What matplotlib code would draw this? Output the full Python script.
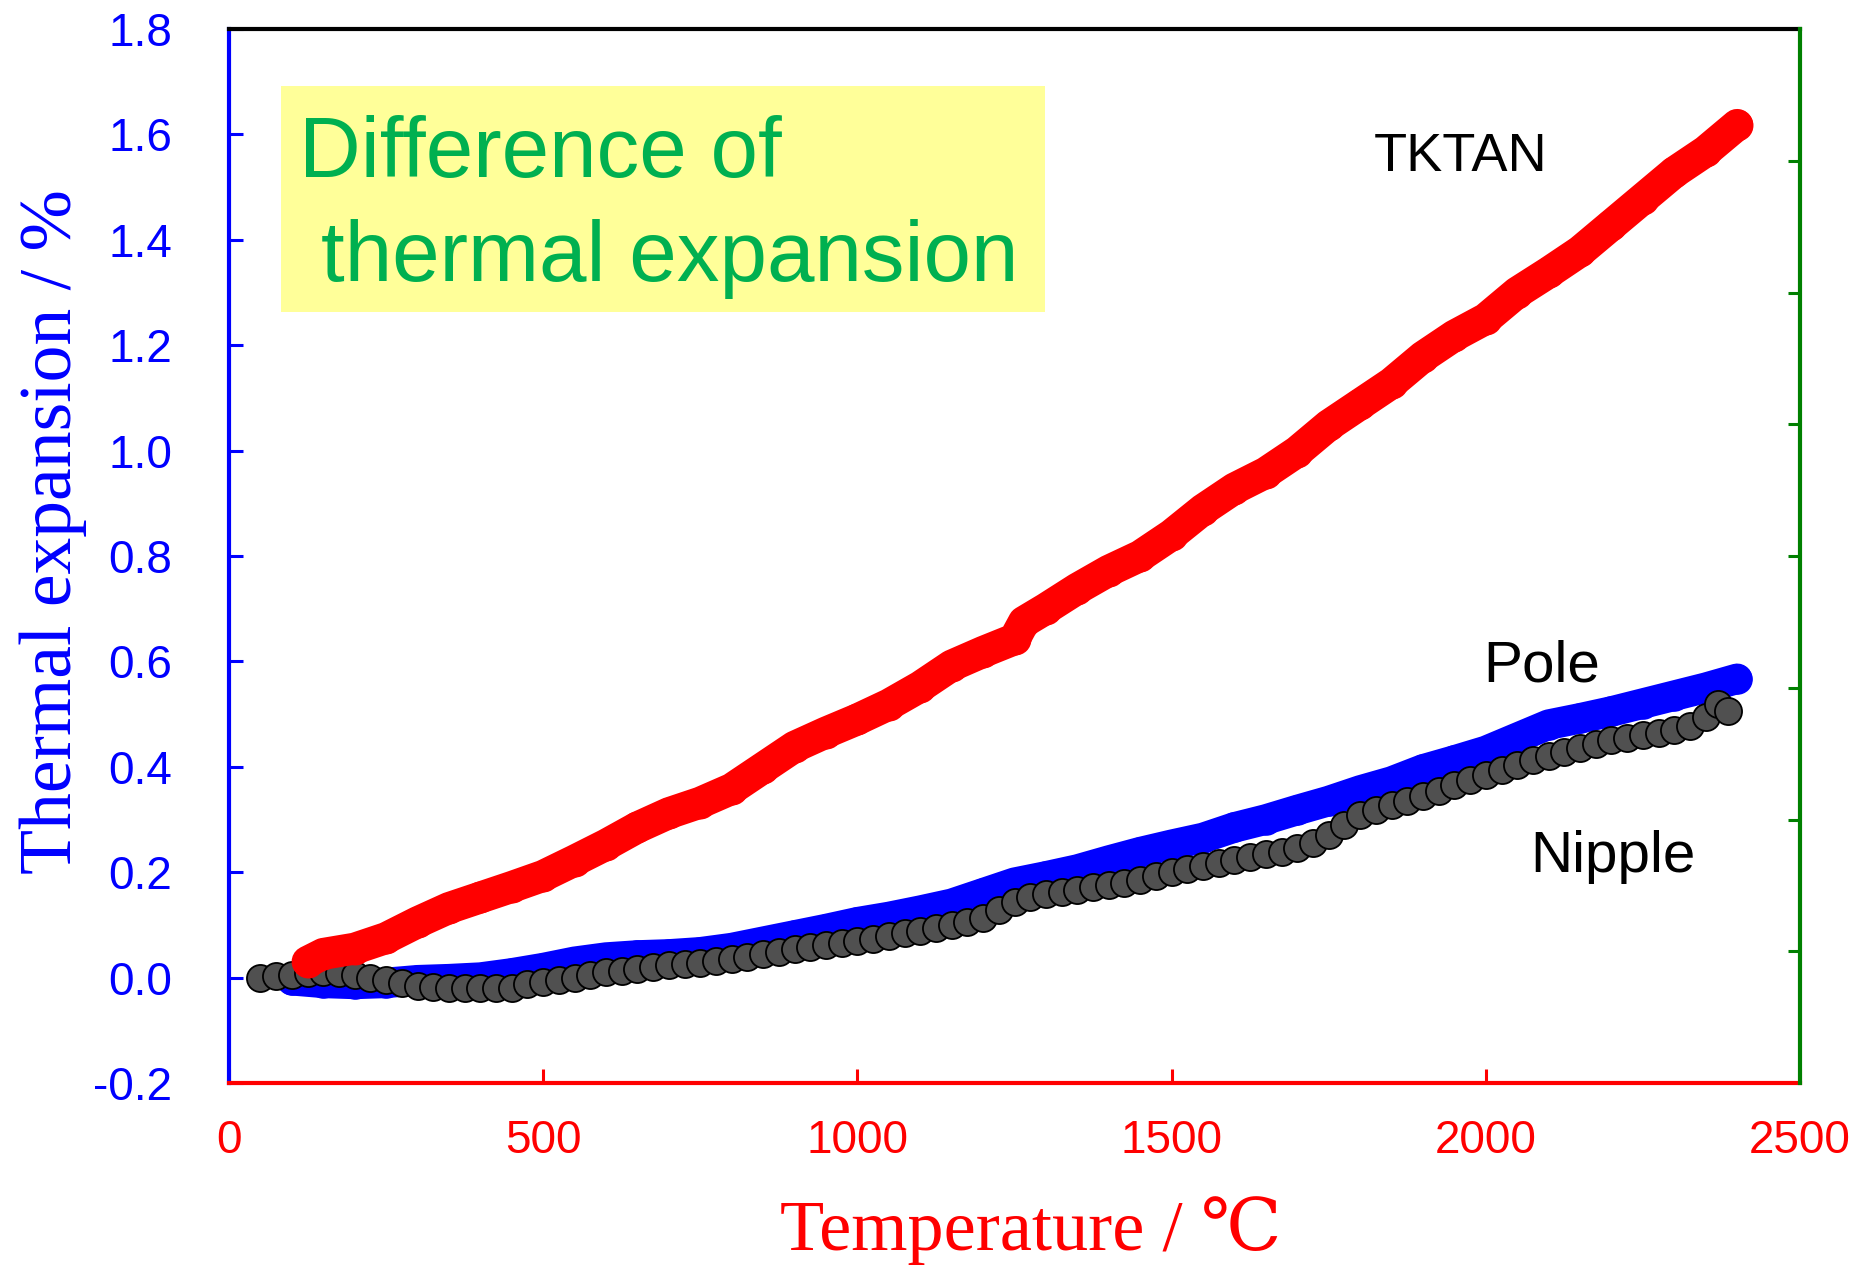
import numpy as np
import matplotlib
matplotlib.use("Agg")
import matplotlib.pyplot as plt
from matplotlib.patches import Rectangle

# ---------------- data ----------------
tktan_T = [125, 150, 200, 250, 300, 350, 400, 450, 500, 550, 600, 650, 700, 750,
           800, 850, 900, 950, 1000, 1050, 1100, 1150, 1200, 1250, 1265, 1300,
           1350, 1400, 1450, 1500, 1550, 1600, 1650, 1700, 1750, 1800, 1850,
           1900, 1950, 2000, 2050, 2100, 2150, 2200, 2250, 2300, 2350, 2400]
tktan_v = [0.030, 0.045, 0.055, 0.075, 0.105, 0.132, 0.152, 0.172, 0.193, 0.222,
           0.252, 0.285, 0.312, 0.332, 0.358, 0.398, 0.438, 0.465, 0.490, 0.518,
           0.552, 0.592, 0.618, 0.642, 0.675, 0.700, 0.738, 0.772, 0.800, 0.840,
           0.888, 0.928, 0.958, 0.998, 1.048, 1.088, 1.128, 1.178, 1.218, 1.250,
           1.300, 1.338, 1.378, 1.428, 1.478, 1.528, 1.568, 1.618]

pole_T = [100, 150, 200, 250, 300, 350, 400, 450, 500, 550, 600, 650, 700, 750,
          800, 850, 900, 950, 1000, 1050, 1100, 1150, 1200, 1250, 1300, 1350,
          1400, 1450, 1500, 1550, 1600, 1650, 1700, 1750, 1800, 1850, 1900, 1950,
          2000, 2050, 2100, 2150, 2200, 2250, 2300, 2350, 2400]
pole_v = [-0.005, -0.010, -0.012, -0.010, -0.005, -0.003, 0.000, 0.008, 0.018,
          0.030, 0.038, 0.042, 0.044, 0.048, 0.056, 0.068, 0.080, 0.092, 0.105,
          0.115, 0.127, 0.140, 0.160, 0.180, 0.192, 0.205, 0.222, 0.238, 0.252,
          0.265, 0.285, 0.300, 0.318, 0.335, 0.355, 0.372, 0.395, 0.412, 0.430,
          0.455, 0.480, 0.492, 0.505, 0.520, 0.535, 0.550, 0.567]

nipple_T = [50, 75, 100, 125, 150, 175, 200, 225, 250, 275, 300, 325, 350, 375,
            400, 425, 450, 475, 500, 525, 550, 575, 600, 625, 650, 675, 700, 725,
            750, 775, 800, 825, 850, 875, 900, 925, 950, 975, 1000, 1025, 1050,
            1075, 1100, 1125, 1150, 1175, 1200, 1225, 1250, 1275, 1300, 1325,
            1350, 1375, 1400, 1425, 1450, 1475, 1500, 1525, 1550, 1575, 1600,
            1625, 1650, 1675, 1700, 1725, 1750, 1775, 1800, 1825, 1850, 1875,
            1900, 1925, 1950, 1975, 2000, 2025, 2050, 2075, 2100, 2125, 2150,
            2175, 2200, 2225, 2250, 2275, 2300, 2325, 2350, 2370, 2385]
nipple_v = [0.000, 0.003, 0.005, 0.008, 0.010, 0.008, 0.005, 0.000, -0.005,
            -0.010, -0.015, -0.018, -0.020, -0.020, -0.020, -0.020, -0.019,
            -0.012, -0.008, -0.004, 0.000, 0.005, 0.010, 0.013, 0.016, 0.020,
            0.023, 0.026, 0.028, 0.031, 0.035, 0.040, 0.045, 0.049, 0.054, 0.058,
            0.062, 0.066, 0.070, 0.074, 0.079, 0.084, 0.089, 0.094, 0.100, 0.106,
            0.114, 0.128, 0.143, 0.152, 0.158, 0.163, 0.167, 0.171, 0.175, 0.180,
            0.186, 0.193, 0.200, 0.206, 0.212, 0.218, 0.224, 0.229, 0.234, 0.239,
            0.245, 0.255, 0.270, 0.290, 0.308, 0.318, 0.327, 0.336, 0.345, 0.355,
            0.365, 0.375, 0.385, 0.394, 0.403, 0.412, 0.420, 0.428, 0.436, 0.443,
            0.450, 0.455, 0.460, 0.465, 0.470, 0.478, 0.495, 0.520, 0.505]

x_ticks = [0, 500, 1000, 1500, 2000, 2500]
y_ticks = [-0.2, 0.0, 0.2, 0.4, 0.6, 0.8, 1.0, 1.2, 1.4, 1.6, 1.8]
y_ticklabels = ["-0.2", "0.0", "0.2", "0.4", "0.6", "0.8", "1.0", "1.2", "1.4", "1.6", "1.8"]
right_ticks = [1, 2, 3, 4, 5, 6, 7]

W, H = 1864, 1268
fig = plt.figure(figsize=(W / 100, H / 100), dpi=100)
ax = fig.add_axes([229 / W, 1 - 1083 / H, (1800 - 229) / W, (1083 - 29) / H])

# right (secondary) axis, ticks only
ax2 = ax.twinx()
ax2.set_ylim(0, 8)
ax2.set_yticks(right_ticks)
ax2.tick_params(axis='y', direction='in', length=9, width=2.2, colors='#008000',
                labelright=False)
for s in ['left', 'top', 'bottom']:
    ax2.spines[s].set_visible(False)
ax2.spines['right'].set_color('#008000')
ax2.spines['right'].set_linewidth(3)

# data
ax.plot(pole_T, pole_v, '-o', color='#0000FF', lw=22, ms=22, mew=0,
        solid_capstyle='round', solid_joinstyle='round', zorder=3)
ax.plot(nipple_T, nipple_v, 'o', ms=19.5, mfc='#505050', mec='black', mew=1.3,
        zorder=4)
ax.plot(tktan_T, tktan_v, '-o', color='#FF0000', lw=23, ms=23, mew=0,
        solid_capstyle='round', solid_joinstyle='round', zorder=5)

ax.set_xlim(0, 2500)
ax.set_ylim(-0.2, 1.8)
ax.set_xticks(x_ticks)
ax.set_yticks(y_ticks)
ax.set_yticklabels(y_ticklabels)

sans = 'Liberation Sans'
for lab in ax.get_xticklabels() + ax.get_yticklabels():
    lab.set_fontfamily(sans)
    lab.set_fontsize(33)
ax.tick_params(axis='y', direction='in', length=10, width=2.2, colors='#0000FF',
               pad=41, right=False)
ax.tick_params(axis='x', direction='in', length=10, width=2.2, colors='#FF0000',
               pad=26, top=False)

ax.spines['left'].set_color('#0000FF')
ax.spines['bottom'].set_color('#FF0000')
ax.spines['top'].set_color('black')
ax.spines['right'].set_visible(False)
for s in ['left', 'bottom', 'top']:
    ax.spines[s].set_linewidth(3)

# axis labels
serif = ['Liberation Serif', 'DejaVu Serif']
fig.text(1031 / W, 1 - 1250 / H, 'Temperature / ℃', color='#FF0000',
         fontsize=52, family=serif, ha='center', va='baseline')
fig.text(53 / W, 1 - 532 / H, 'Thermal expansion / %', color='#0000FF',
         fontsize=53, family=serif, ha='center', va='center', rotation=90)

# yellow annotation box
fig.patches.append(Rectangle((281 / W, 1 - 312 / H), (1045 - 281) / W, (312 - 86) / H,
                             transform=fig.transFigure, facecolor='#FFFF99',
                             edgecolor='none', zorder=1))
fig.text(299 / W, 1 - 177 / H, 'Difference of', color='#00B050', fontsize=61.5,
         family=sans, ha='left', va='baseline', zorder=2)
fig.text(321 / W, 1 - 281 / H, 'thermal expansion', color='#00B050', fontsize=61.5,
         family=sans, ha='left', va='baseline', zorder=2)

# series labels
ax.text(1960, 1.530, 'TKTAN', fontsize=39, family=sans, ha='center', va='baseline')
ax.text(2089, 0.561, 'Pole', fontsize=42, family=sans, ha='center', va='baseline')
ax.text(2202, 0.200, 'Nipple', fontsize=42, family=sans, ha='center', va='baseline')

fig.savefig('out.png', dpi=100)
